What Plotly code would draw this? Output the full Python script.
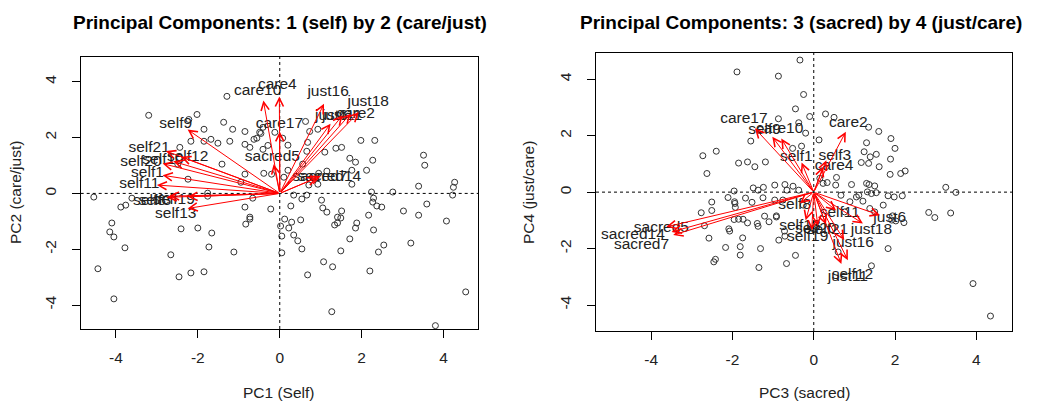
import plotly.graph_objects as go

# ---------------- data: PC scores ----------------
pc1 = [-1.29,-3.20,-2.02,-2.22,-1.37,-1.85,-1.15,-0.85,-2.17,-1.85,
       -1.68,-1.51,-1.22,-0.85,-0.63,-0.49,-0.41,-0.12,-2.44,-0.73,
       -0.41,-2.49,-2.24,-1.41,-0.85,-0.39,-0.20,-0.95,-1.76,-4.54,
       -3.61,-3.88,-3.76,-0.66,-0.56,-0.46,0.07,0.20,0.63,0.73,
       0.93,0.68,0.66,0.56,0.20,0.10,1.98,2.32,1.51,1.10,
       1.71,1.85,2.27,2.12,1.76,1.76,1.15,0.93,0.71,3.51,
       3.54,3.39,2.76,4.27,4.24,4.22,2.24,2.29,2.27,2.37,
       2.49,0.34,0.66,0.54,0.27,1.02,1.05,1.15,1.51,2.17,
       3.02,3.39,3.59,-0.22,-0.85,-0.73,-4.10,-4.15,-4.05,-3.78,
       -4.44,-4.05,-2.66,-2.41,-2.00,-1.66,-1.73,-2.46,-2.17,-1.85,
       -1.12,-0.83,-0.73,0.12,0.02,0.22,0.29,0.51,0.34,0.44,
       0.54,0.05,0.05,0.68,1.07,1.29,1.27,1.49,1.71,1.85,
       1.88,2.29,2.41,2.54,2.20,3.20,4.07,4.54,3.80,1.34,
       1.41,1.49,1.41,-0.29,-1.76,0.95,1.37]
pc2 = [3.48,2.80,2.83,2.65,2.55,2.30,2.30,2.22,1.87,1.87,
       1.94,1.80,1.87,1.76,1.94,2.19,2.37,2.19,1.65,1.65,
       1.58,1.05,0.51,1.05,0.69,0.72,0.69,0.40,0.01,-0.13,
       -0.17,-0.49,-0.42,-0.17,1.98,2.15,1.98,1.73,2.58,2.22,
       2.30,1.83,1.51,1.05,0.83,0.58,1.90,1.90,1.65,1.48,
       1.26,1.12,1.19,0.83,0.83,0.33,0.80,0.33,0.30,1.37,
       1.01,0.26,0.05,0.40,0.22,-0.06,0.05,-0.17,-0.31,-0.45,
       -0.49,-0.06,-0.06,-0.20,-0.45,-0.24,-0.52,-0.67,-0.63,-0.78,
       -0.63,-0.78,-0.38,-0.56,-0.49,-0.85,-1.06,-1.38,-1.56,-1.95,
       -2.70,-3.78,-2.20,-1.27,-1.24,-1.42,-1.92,-2.99,-2.85,-2.81,
       -2.10,-1.10,-0.92,-0.92,-1.17,-1.24,-1.03,-0.95,-1.49,-1.70,
       -1.99,-1.53,-2.13,-2.92,-2.45,-2.63,-4.24,-2.06,-1.63,-1.24,
       -1.06,-1.31,-2.10,-1.85,-2.78,-1.78,-0.99,-3.53,-4.74,-1.13,
       -1.06,-0.88,-0.85,1.72,-0.10,0.72,1.62]

pc3 = [-0.34,-1.89,-0.87,-0.25,-0.45,-0.10,0.29,0.50,-0.87,-0.37,
       -0.20,-1.55,0.13,-2.40,-2.73,-2.63,-1.85,-1.63,-1.45,-1.19,
       -0.52,-0.30,0.56,0.54,-1.96,-1.49,-1.37,-0.96,-0.71,-0.51,
       -0.66,-0.37,-2.11,-2.51,-1.94,-1.68,-1.25,-2.77,-2.51,-1.21,
       -0.92,0.67,
       -2.69,-2.58,-2.17,-2.42,-2.46,-2.09,-2.07,-1.81,-1.81,-1.75,
       -1.31,-1.35,-1.63,-1.39,-1.96,-1.85,-1.74,-1.10,-0.72,-0.86,
       -0.67,-1.95,-1.52,-1.93,-1.24,
       1.24,1.39,1.54,1.61,1.89,1.88,2.14,2.25,1.17,1.35,
       0.93,0.23,0.33,1.30,1.36,1.50,1.54,1.32,1.42,1.11,
       1.21,1.83,1.98,2.18,1.71,1.94,2.02,2.22,1.92,1.83,
       1.42,3.25,3.50,2.83,2.98,3.37,3.92,4.35,-0.96,-0.76,
       -1.37,-0.92,-0.71,-0.45,0.60,
       -0.26,-0.02,0.89,1.05,1.38,1.50,0.76,0.15,
       1.35,1.60,1.90,1.30,2.00]
pc4 = [4.68,4.26,4.11,3.46,2.95,2.68,2.77,2.65,2.60,2.46,
       2.09,1.81,1.85,1.45,1.29,0.66,1.03,1.07,0.90,1.07,
       1.55,1.63,0.52,0.25,0.04,0.15,0.07,0.25,0.27,0.21,
       0.07,0.07,-0.19,-0.35,-0.40,-0.21,-0.20,-0.73,-0.65,-0.85,
       -0.84,-0.11,
       -1.19,-1.63,-1.96,-2.38,-2.47,-1.30,-1.38,-1.93,-2.23,-1.62,
       -2.00,-2.67,-1.09,-1.11,-0.97,-0.96,-0.96,-1.05,-1.38,-1.70,
       -2.53,-0.34,-0.36,-0.54,0.17,
       1.43,1.25,1.34,0.90,1.17,0.63,0.66,0.75,1.05,1.02,
       0.27,0.31,0.34,0.31,0.27,0.22,-0.02,0.01,-0.05,-0.11,
       -0.32,-0.13,-0.17,-0.13,-0.46,-0.84,-1.02,-1.08,-0.99,-2.00,
       -2.61,0.17,-0.01,-0.72,-0.90,-0.74,-3.24,-4.39,-0.28,-0.28,
       -1.21,-0.88,-1.56,-2.24,-2.12,
       -0.46,-1.29,-0.34,-0.17,-0.58,-0.70,-0.70,0.49,
       2.30,2.15,1.90,1.75,1.55]

# ---------------- variable loadings (arrow tips) and label positions ----------------
vars12 = ["care10","care4","care17","sacred5","just16","just18","care2","just11","just6",
          "sacred7","sacred14","self9","self21","self20","self10","self12","self1","self11",
          "self8","self3","self19","self13"]
tip12_x = [-0.40,-0.01,0.00,-0.15,1.08,1.93,1.73,1.53,1.24,
           1.00,0.92,-2.25,-2.78,-2.86,-2.60,-2.41,-2.86,-3.00,
           -2.70,-2.76,-2.25,-2.25]
tip12_y = [3.33,3.47,2.22,1.05,3.21,2.91,2.86,2.80,2.50,
           0.62,0.57,2.29,1.52,1.07,1.15,1.31,0.65,0.30,
           -0.10,-0.14,-0.12,-0.54]
lab12_x = [-0.54,-0.06,-0.01,-0.18,1.18,2.16,1.85,1.52,1.26,
           0.98,1.21,-2.54,-3.19,-3.39,-2.85,-2.25,-3.23,-3.43,
           -3.18,-3.05,-2.58,-2.54]
lab12_y = [3.65,3.87,2.50,1.31,3.63,3.27,2.85,2.78,2.78,
           0.59,0.59,2.48,1.64,1.13,1.20,1.31,0.71,0.33,
           -0.26,-0.26,-0.24,-0.74]

vars34 = ["care17","self9","care10","care2","self1","self3","care4","self8","self11",
          "self13","self21","self19","self20","just6","just18","just16","just11","self12",
          "sacred5","sacred14","sacred7"]
tip34_x = [-1.45,-1.02,-0.80,0.79,-0.30,0.31,0.23,-0.34,0.55,
           -0.20,0.30,-0.05,0.10,1.63,1.21,0.75,0.84,0.68,
           -3.63,-3.50,-3.46]
tip34_y = [2.26,1.96,1.90,2.14,1.05,1.13,0.90,-0.39,-0.65,
           -1.00,-1.15,-1.35,-1.20,-0.82,-1.11,-1.70,-2.41,-2.55,
           -1.23,-1.41,-1.52]
lab34_x = [-1.72,-1.21,-0.84,0.85,-0.43,0.52,0.50,-0.47,0.64,
           -0.34,0.34,-0.15,0.05,1.87,1.42,0.97,0.84,0.95,
           -3.75,-4.45,-4.24]
lab34_y = [2.58,2.20,2.23,2.44,1.25,1.28,0.92,-0.46,-0.76,
           -1.21,-1.35,-1.60,-1.30,-0.93,-1.35,-1.80,-3.00,-2.95,
           -1.29,-1.52,-1.88]

tick_vals = [-4, -2, 0, 2, 4]
tick_text = ["-4", "-2", "0", "2", "4"]

titles = ["Principal Components: 1 (self) by 2 (care/just)",
          "Principal Components: 3 (sacred) by 4 (just/care)"]
xtitles = ["PC1 (Self)", "PC3 (sacred)"]
ytitles = ["PC2 (care/just)", "PC4 (just/care)"]

# ---------------- figure ----------------
FONT = "Liberation Sans, Arial, sans-serif"
W, H = 1040, 405
fig = go.Figure()

panels = [
    dict(sx=pc1, sy=pc2, names=vars12, tx=tip12_x, ty=tip12_y, lx=lab12_x, ly=lab12_y,
         xa="x", ya="y"),
    dict(sx=pc3, sy=pc4, names=vars34, tx=tip34_x, ty=tip34_y, lx=lab34_x, ly=lab34_y,
         xa="x2", ya="y2"),
]

annotations = []
shapes = []
for p in panels:
    fig.add_trace(go.Scatter(
        x=p["sx"], y=p["sy"], mode="markers", xaxis=p["xa"], yaxis=p["ya"],
        marker=dict(symbol="circle-open", size=6, color="#333333", line=dict(width=1)),
        hoverinfo="skip", showlegend=False))
    for tx, ty in zip(p["tx"], p["ty"]):
        annotations.append(dict(
            x=tx, y=ty, ax=0, ay=0, xref=p["xa"], yref=p["ya"],
            axref=p["xa"], ayref=p["ya"], text="", showarrow=True,
            arrowhead=5, arrowsize=1.6, arrowwidth=1, arrowcolor="#ff0000"))
    fig.add_trace(go.Scatter(
        x=p["lx"], y=p["ly"], mode="text", text=p["names"], xaxis=p["xa"], yaxis=p["ya"],
        textfont=dict(family=FONT, size=15.5, color="#222222"),
        hoverinfo="skip", showlegend=False))
    shapes.append(dict(type="line", xref=p["xa"], yref=p["ya"] + " domain",
                       x0=0, x1=0, y0=0, y1=1, line=dict(color="black", width=1, dash="dot")))
    shapes.append(dict(type="line", xref=p["xa"] + " domain", yref=p["ya"],
                       x0=0, x1=1, y0=0, y1=0, line=dict(color="black", width=1, dash="dot")))

axis_common = dict(
    showgrid=False, zeroline=False, showline=True, mirror=True, linecolor="black",
    linewidth=1, ticks="outside", ticklen=8, tickwidth=1, tickcolor="black",
    tickvals=tick_vals, ticktext=tick_text,
    tickfont=dict(family=FONT, size=15.5, color="#222222"))

xd = [[80.7 / W, 478 / W], [596 / W, 1012 / W]]
yd = [[(H - 329) / H, (H - 57) / H], [(H - 331) / H, (H - 53) / H]]

fig.update_layout(
    width=W, height=H, margin=dict(l=0, r=0, t=0, b=0),
    paper_bgcolor="white", plot_bgcolor="white",
    xaxis=dict(domain=xd[0], range=[-4.86, 4.84], anchor="y", ticklabelstandoff=6, **axis_common),
    yaxis=dict(domain=yd[0], range=[-4.86, 4.89], anchor="x", tickangle=-90, ticklabelstandoff=10, **axis_common),
    xaxis2=dict(domain=xd[1], range=[-5.36, 4.88], anchor="y2", ticklabelstandoff=6, **axis_common),
    yaxis2=dict(domain=yd[1], range=[-4.92, 4.93], anchor="x2", tickangle=-90, ticklabelstandoff=10, **axis_common),
    shapes=shapes,
)

# titles and axis titles
title_x = [279.5 / W, 801 / W]
xt_x = [279 / W, 804 / W]
yt_x = [15 / W, 528 / W]
yt_y = [1 - 193 / H, 1 - 193 / H]
for i in range(2):
    annotations.append(dict(text="<b>" + titles[i] + "</b>", x=title_x[i], y=1 - 22 / H,
                            xref="paper", yref="paper", showarrow=False,
                            xanchor="center", yanchor="middle",
                            font=dict(family=FONT, size=19, color="black")))
    annotations.append(dict(text=xtitles[i], x=xt_x[i], y=1 - 392 / H,
                            xref="paper", yref="paper", showarrow=False,
                            xanchor="center", yanchor="middle",
                            font=dict(family=FONT, size=15.5, color="#222222")))
    annotations.append(dict(text=ytitles[i], x=yt_x[i], y=yt_y[i], textangle=-90,
                            xref="paper", yref="paper", showarrow=False,
                            xanchor="center", yanchor="middle",
                            font=dict(family=FONT, size=15.5, color="#222222")))

fig.update_layout(annotations=annotations)
fig.write_html("out.html")
